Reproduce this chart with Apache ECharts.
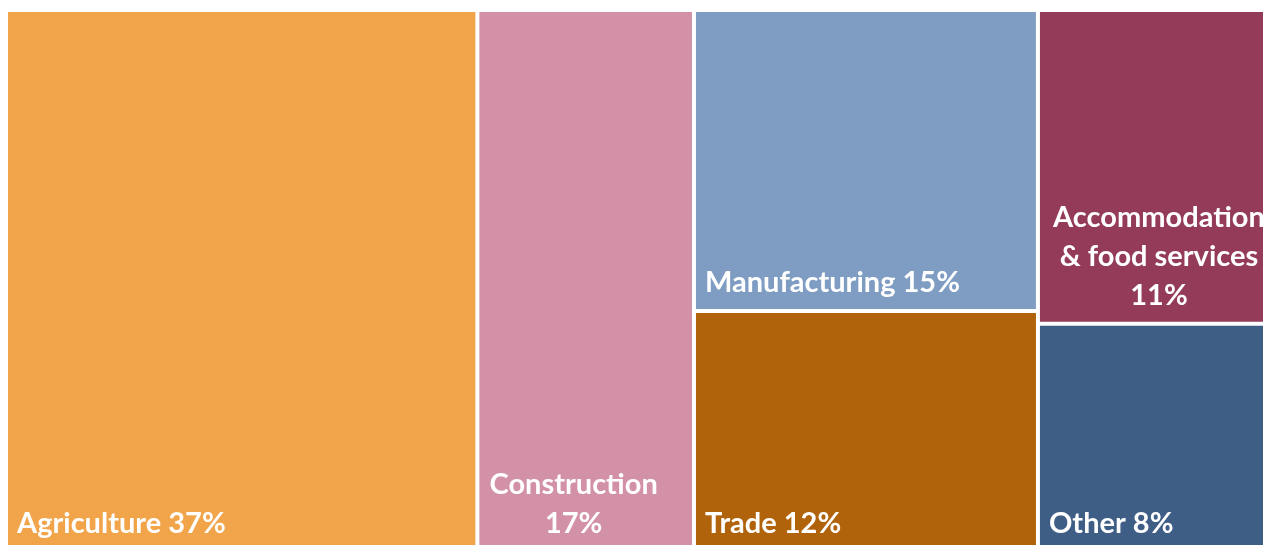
<!DOCTYPE html>
<html lang="en">
<head>
    <meta charset="UTF-8">
    <title>Treemap</title>
    <script src="https://cdn.jsdelivr.net/npm/echarts@6/dist/echarts.min.js"></script>
    <style>
        html, body { margin: 0; padding: 0; background: #fff; }
    </style>
</head>
<body>
    <div id="main" style="width: 1263px; height: 545px"></div>
    <script>
        // sectors, shares (%) and the column each one sits in
        var sectors = ['Agriculture', 'Construction', 'Manufacturing', 'Trade', 'Accommodation\n& food services', 'Other'];
        var shares = [37, 17, 15, 12, 11, 8];
        var columns = [0, 1, 2, 2, 3, 3];
        var colors = ['#F2A44A', '#D291A6', '#7F9DC3', '#B0630A', '#933B59', '#3E5E86'];
        var wrapped = [false, true, false, false, true, false];

        function leaf(i) {
            var label = {
                position: 'insideBottomLeft',
                distance: 4,
                offset: [0, 2]
            };
            if (wrapped[i]) {
                // multi-line labels: lines centred on each other
                label = {
                    position: 'insideBottom',
                    align: 'center',
                    distance: 4,
                    offset: [i === 1 ? -12 : 0, 2]
                };
            }
            return {
                name: sectors[i] + (wrapped[i] ? '\n' : ' ') + shares[i] + '%',
                value: shares[i],
                itemStyle: { color: colors[i] },
                label: label
            };
        }

        // build the four columns
        var data = [];
        (function() {
            var groups = {};
            for (var i = 0; i < sectors.length; i++) {
                var c = columns[i];
                if (!groups[c]) {
                    groups[c] = { name: 'col' + c, children: [] };
                    data.push(groups[c]);
                }
                groups[c].children.push(leaf(i));
            }
            for (var k = 0; k < data.length; k++) {
                if (data[k].children.length === 1) {
                    data[k] = data[k].children[0];
                } else {
                    data[k].value = data[k].children.reduce(function(s, d) { return s + d.value; }, 0);
                }
            }
        })();

        echarts.init(document.getElementById('main')).setOption({
            animation: false,
            series: [{
                type: 'treemap',
                left: 8,
                top: 12,
                width: 1270,
                height: 538,
                sort: false,
                roam: false,
                nodeClick: false,
                breadcrumb: { show: false },
                squareRatio: 0.7,   // keeps each group as its own full-height column
                label: {
                    show: true,
                    color: '#fff',
                    fontFamily: 'Lato',
                    fontWeight: 'bold',
                    fontSize: 29,
                    lineHeight: 39
                },
                upperLabel: { show: false },
                itemStyle: { borderColor: '#fff', borderWidth: 0 },
                levels: [
                    { itemStyle: { gapWidth: 4, borderWidth: 0 } },
                    { itemStyle: { gapWidth: 4, borderWidth: 0 } },
                    { itemStyle: { gapWidth: 0, borderWidth: 0 } }
                ],
                data: data
            }]
        });
    </script>
</body>
</html>
